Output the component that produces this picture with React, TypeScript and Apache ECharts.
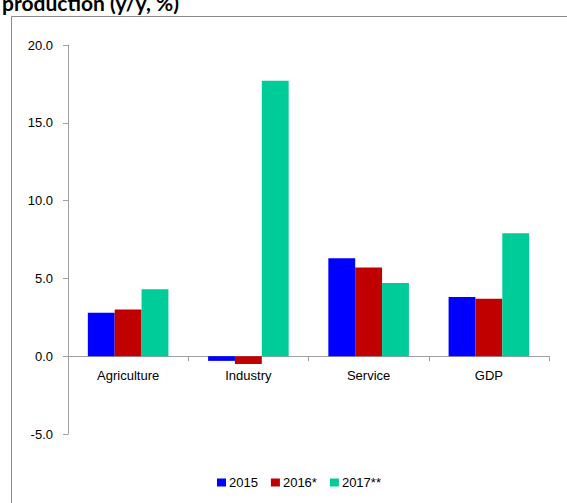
import React, { useEffect, useRef } from "react";
import * as echarts from "echarts";

// Sector growth, y/y %
const categories = ["Agriculture", "Industry", "Service", "GDP"];
const seriesNames = ["2015", "2016*", "2017**"];
const values2015 = [2.8, -0.3, 6.3, 3.8];
const values2016 = [3.0, -0.5, 5.7, 3.7];
const values2017 = [4.3, 17.7, 4.7, 7.9];
const seriesColors = ["#0000ff", "#c00000", "#00cc99"];
const titleText = "production (y/y, %)";

const FONT = "'Liberation Sans', Arial, sans-serif";

// value axis range
const Y_MIN = -5;
const Y_MAX = 20;
const Y_STEP = 5;

export default function App() {
  const ref = useRef<HTMLDivElement>(null);

  useEffect(() => {
    if (!ref.current) return;
    const chart = echarts.init(ref.current, null, { renderer: "svg" });
    const data = [values2015, values2016, values2017];

    const gridTop = 45;
    const gridBottom = 69;
    const plotHeight = 503 - gridTop - gridBottom;
    // category labels sit just under the zero line rather than the grid floor
    const zeroOffset = (plotHeight * (0 - Y_MIN)) / (Y_MAX - Y_MIN);

    chart.setOption({
      animation: false,
      backgroundColor: "#ffffff",
      textStyle: { fontFamily: FONT, color: "#000" },
      graphic: [
        {
          type: "rect",
          shape: { x: 11.5, y: 16.5, width: 700, height: 700 },
          style: { fill: "none", stroke: "#8a8a8a", lineWidth: 1 },
          silent: true,
        },
        {
          type: "text",
          x: 2,
          y: 13,
          style: {
            text: titleText,
            font: "bold 21px Lato, 'Open Sans', sans-serif",
            fill: "#000",
            textVerticalAlign: "bottom",
          },
          silent: true,
        },
      ],
      legend: {
        data: seriesNames,
        left: 212,
        top: 471,
        icon: "rect",
        itemWidth: 9,
        itemHeight: 8,
        itemGap: 13,
        textStyle: { fontSize: 13, fontFamily: FONT, color: "#000", padding: [0, 0, 0, -2] },
        selectedMode: false,
      },
      grid: { left: 68, right: 18, top: gridTop, bottom: gridBottom, containLabel: false },
      xAxis: {
        type: "category",
        data: categories,
        axisLine: { onZero: true, lineStyle: { color: "#a0a0a0", width: 1 } },
        axisTick: { show: true, length: 5, lineStyle: { color: "#a0a0a0" } },
        axisLabel: {
          fontSize: 13,
          color: "#000",
          margin: 13 - zeroOffset,
          fontFamily: FONT,
        },
      },
      yAxis: {
        type: "value",
        min: Y_MIN,
        max: Y_MAX,
        interval: Y_STEP,
        splitLine: { show: false },
        axisLine: { show: true, lineStyle: { color: "#a0a0a0", width: 1 } },
        axisTick: { show: true, length: 5, lineStyle: { color: "#a0a0a0" } },
        axisLabel: {
          fontSize: 13,
          color: "#000",
          margin: 15,
          fontFamily: FONT,
          formatter: (v: number) => v.toFixed(1),
        },
      },
      series: seriesNames.map((name, i) => ({
        name,
        type: "bar",
        data: data[i],
        barGap: "0%",
        barCategoryGap: "33%",
        itemStyle: { color: seriesColors[i] },
      })),
    });

    return () => chart.dispose();
  }, []);

  return (
    <div
      ref={ref}
      style={{ position: "absolute", left: 0, top: 0, width: 567, height: 503 }}
    />
  );
}
